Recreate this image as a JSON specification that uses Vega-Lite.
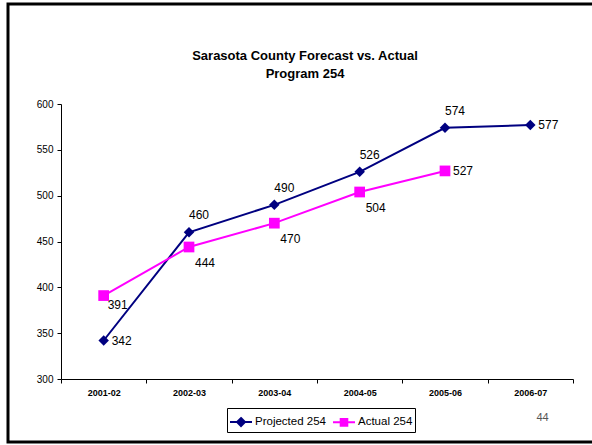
{
  "$schema": "https://vega.github.io/schema/vega-lite/v6.json",
  "autosize": "none",
  "width": 590,
  "height": 438,
  "padding": {"left": 8, "top": 4, "right": -6, "bottom": 3},
  "background": "white",
  "config": {
    "font": "Liberation Sans",
    "view": {"stroke": "black", "strokeWidth": 3},
    "axis": {"grid": false, "domainColor": "black", "tickColor": "black", "labelColor": "black", "tickSize": 4}
  },
  "title": {
    "text": ["Sarasota County Forecast vs. Actual", "Program 254"],
    "fontSize": 13,
    "fontWeight": "bold",
    "color": "black",
    "anchor": "middle",
    "frame": "group",
    "baseline": "middle",
    "lineHeight": 18,
    "offset": 0,
    "dx": 2,
    "dy": 83
  },
  "data": {
    "values": [
      {"year": "2001-02", "series": "Projected 254", "value": 342},
      {"year": "2002-03", "series": "Projected 254", "value": 460},
      {"year": "2003-04", "series": "Projected 254", "value": 490},
      {"year": "2004-05", "series": "Projected 254", "value": 526},
      {"year": "2005-06", "series": "Projected 254", "value": 574},
      {"year": "2006-07", "series": "Projected 254", "value": 577},
      {"year": "2001-02", "series": "Actual 254", "value": 391},
      {"year": "2002-03", "series": "Actual 254", "value": 444},
      {"year": "2003-04", "series": "Actual 254", "value": 470},
      {"year": "2004-05", "series": "Actual 254", "value": 504},
      {"year": "2005-06", "series": "Actual 254", "value": 527}
    ]
  },
  "encoding": {
    "x": {
      "field": "year",
      "type": "ordinal",
      "scale": {"type": "band", "range": [53, 565], "paddingInner": 0, "paddingOuter": 0},
      "axis": {
        "orient": "bottom",
        "offset": -63,
        "labelAngle": 0,
        "tickBand": "extent",
        "labelFontSize": 9,
        "labelFontWeight": "bold",
        "labelPadding": 5,
        "title": "44",
        "titleFontSize": 11,
        "titleFontWeight": "normal",
        "titleColor": "#555555",
        "titleX": 534,
        "titleY": 38,
        "titleAlign": "center",
        "titleBaseline": "middle",
        "titleAnchor": null
      }
    },
    "y": {
      "field": "value",
      "type": "quantitative",
      "scale": {"domain": [300, 600], "range": [375, 100], "nice": false, "zero": false},
      "axis": {
        "orient": "left",
        "offset": -53,
        "values": [300, 350, 400, 450, 500, 550, 600],
        "labelFontSize": 10,
        "labelPadding": 4,
        "title": null
      }
    },
    "color": {
      "field": "series",
      "type": "nominal",
      "scale": {"domain": ["Projected 254", "Actual 254"], "range": ["#000080", "#FF00FF"]},
      "legend": {
        "title": null,
        "orient": "none",
        "direction": "horizontal",
        "legendX": 219,
        "legendY": 404,
        "strokeColor": "black",
        "fillColor": "white",
        "padding": 2,
        "labelFontSize": 11.5,
        "labelColor": "black",
        "labelOffset": 2,
        "columnPadding": 3,
        "symbolSize": 484,
        "symbolStrokeWidth": 2,
        "encode": {
          "symbols": {
            "update": {
              "shape": {"signal": "datum.value === 'Projected 254' ? 'M-1,0H1M0,-0.36L0.36,0L0,0.36L-0.36,0Z' : 'M-1,0H1M-0.3,-0.3H0.3V0.3H-0.3Z'"},
              "fill": {"signal": "datum.value === 'Projected 254' ? '#000080' : '#FF00FF'"},
              "stroke": {"signal": "datum.value === 'Projected 254' ? '#000080' : '#FF00FF'"},
              "strokeWidth": {"value": 2},
              "opacity": {"value": 1},
              "fillOpacity": {"value": 1}
            }
          }
        }
      }
    }
  },
  "layer": [
    {"mark": {"type": "line", "strokeWidth": 2}},
    {
      "transform": [{"filter": "datum.series === 'Projected 254'"}],
      "mark": {"type": "point", "shape": "diamond", "filled": true, "size": 110, "opacity": 1}
    },
    {
      "transform": [{"filter": "datum.series === 'Actual 254'"}],
      "mark": {"type": "point", "shape": "square", "filled": true, "size": 115, "opacity": 1}
    },
    {
      "transform": [{"filter": "datum.series === 'Projected 254' && datum.year !== '2001-02' && datum.year !== '2006-07'"}],
      "mark": {"type": "text", "fontSize": 12, "dx": 10, "dy": -17, "align": "center", "baseline": "middle", "color": "black"},
      "encoding": {"text": {"field": "value", "type": "quantitative"}, "color": {"value": "black"}}
    },
    {
      "transform": [{"filter": "datum.series === 'Projected 254' && (datum.year === '2001-02' || datum.year === '2006-07')"}],
      "mark": {"type": "text", "fontSize": 12, "dx": 8, "align": "left", "baseline": "middle", "color": "black"},
      "encoding": {"text": {"field": "value", "type": "quantitative"}, "color": {"value": "black"}}
    },
    {
      "transform": [{"filter": "datum.series === 'Actual 254' && datum.year !== '2001-02' && datum.year !== '2005-06'"}],
      "mark": {"type": "text", "fontSize": 12, "dx": 16, "dy": 16, "align": "center", "baseline": "middle", "color": "black"},
      "encoding": {"text": {"field": "value", "type": "quantitative"}, "color": {"value": "black"}}
    },
    {
      "transform": [{"filter": "datum.series === 'Actual 254' && datum.year === '2001-02'"}],
      "mark": {"type": "text", "fontSize": 12, "dx": 14, "dy": 9, "align": "center", "baseline": "middle", "color": "black"},
      "encoding": {"text": {"field": "value", "type": "quantitative"}, "color": {"value": "black"}}
    },
    {
      "transform": [{"filter": "datum.series === 'Actual 254' && datum.year === '2005-06'"}],
      "mark": {"type": "text", "fontSize": 12, "dx": 8, "align": "left", "baseline": "middle", "color": "black"},
      "encoding": {"text": {"field": "value", "type": "quantitative"}, "color": {"value": "black"}}
    }
  ]
}
